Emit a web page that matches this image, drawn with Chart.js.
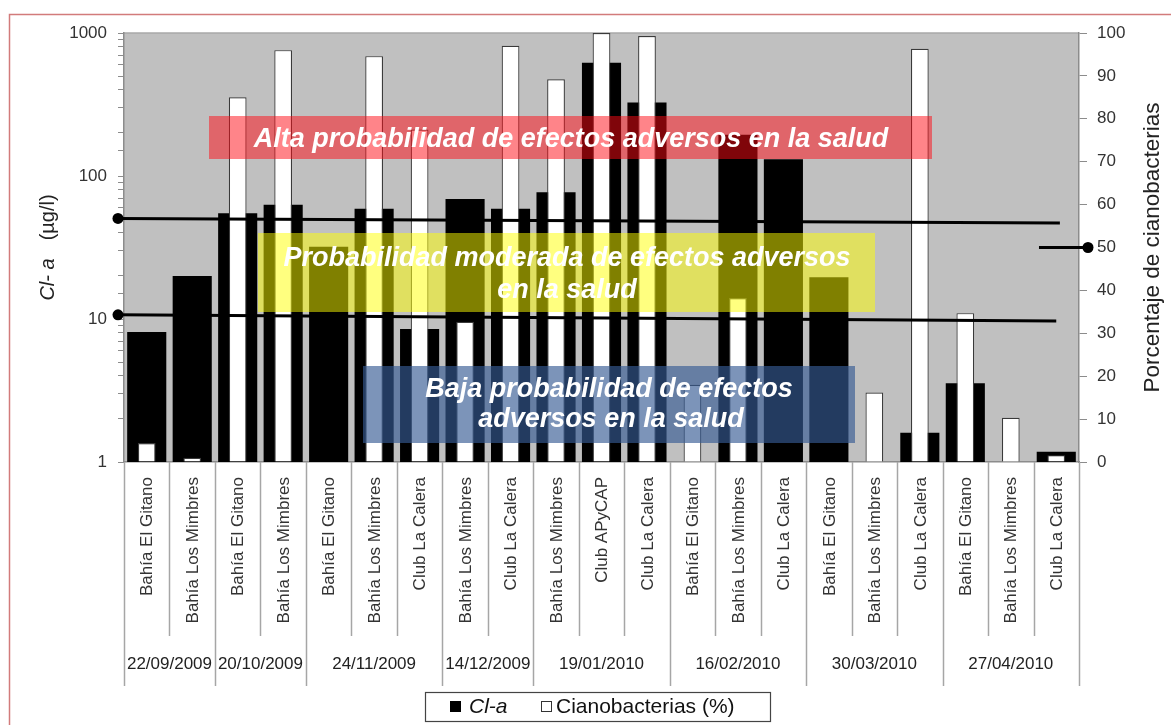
<!DOCTYPE html>
<html>
<head>
<meta charset="utf-8">
<script src="https://cdn.jsdelivr.net/npm/chart.js@4.4.1/dist/chart.umd.min.js"></script>
<style>
	html, body { margin: 0; padding: 0; background: #fff; }
	canvas { display: block; }
</style>
</head>
<body>
<canvas id="chart" width="1171" height="725"></canvas>
<script>
var FONT = '"Liberation Sans", Arial, sans-serif';

// estaciones de muestreo (eje x, nivel 1)
var stations = [
	'Bahía El Gitano', 'Bahía Los Mimbres',
	'Bahía El Gitano', 'Bahía Los Mimbres',
	'Bahía El Gitano', 'Bahía Los Mimbres', 'Club La Calera',
	'Bahía Los Mimbres', 'Club La Calera',
	'Bahía Los Mimbres', 'Club APyCAP', 'Club La Calera',
	'Bahía El Gitano', 'Bahía Los Mimbres', 'Club La Calera',
	'Bahía El Gitano', 'Bahía Los Mimbres', 'Club La Calera',
	'Bahía El Gitano', 'Bahía Los Mimbres', 'Club La Calera'
];
// fechas (eje x, nivel 2) y cuantas estaciones tiene cada una
var dates = ['22/09/2009', '20/10/2009', '24/11/2009', '14/12/2009', '19/01/2010', '16/02/2010', '30/03/2010', '27/04/2010'];
var dateCounts = [2, 2, 3, 2, 3, 3, 3, 3];

// Cl-a (ug/l), eje log izquierdo
var cla = [8.1, 20, 55, 63, 32, 59, 8.5, 69, 59, 77, 620, 326, null, 194, 131, 19.6, null, 1.6, 3.55, null, 1.18];
// Cianobacterias (%), eje derecho
var ciano = [4.4, 1.0, 85, 96, null, 94.6, 77.5, 32.7, 97, 89.2, 100, 99.3, 18, 38.2, null, null, 16.2, 96.3, 34.7, 10.3, 1.6];

// lineas guia sobre el eje log (valor al inicio / al final, indice x final)
var guideStart = [50.5, 10.7];
var guideEnd = [47, 9.7];
var guideEndIndex = [20.08, 20.0];
// linea corta sobre el eje derecho
var guidePct = 50;
var guidePctStartIndex = 19.62;

var leftTicks = [1, 10, 100, 1000];

function vText(ctx, txt, x, y, align) {
	ctx.save();
	ctx.translate(x, y);
	ctx.rotate(-Math.PI / 2);
	ctx.textAlign = align;
	ctx.textBaseline = 'middle';
	ctx.fillText(txt, 0, 0);
	ctx.restore();
}

var bgPlugin = {
	id: 'bg',
	beforeDraw: function (chart) {
		var ctx = chart.ctx, a = chart.chartArea;
		ctx.save();
		ctx.fillStyle = '#fff';
		ctx.fillRect(0, 0, chart.width, chart.height);
		ctx.fillStyle = '#c0c0c0';
		ctx.fillRect(a.left, a.top, a.right - a.left, a.bottom - a.top);
		ctx.strokeStyle = '#a8a8a8';
		ctx.lineWidth = 1.5;
		ctx.beginPath();
		ctx.moveTo(a.left, a.top);
		ctx.lineTo(a.right, a.top);
		ctx.stroke();
		// marco exterior
		ctx.strokeStyle = '#d27b7b';
		ctx.lineWidth = 1.5;
		ctx.beginPath();
		ctx.moveTo(9.5, chart.height);
		ctx.lineTo(9.5, 14.5);
		ctx.lineTo(chart.width, 14.5);
		ctx.stroke();
		ctx.restore();
	}
};

var overlayPlugin = {
	id: 'overlay',
	afterDatasetsDraw: function (chart) {
		var ctx = chart.ctx, a = chart.chartArea,
			xS = chart.scales.x, yS = chart.scales.y, y1S = chart.scales.y1;
		ctx.save();

		// cajas de probabilidad
		ctx.fillStyle = 'rgba(255,10,20,0.5)';
		ctx.fillRect(209, 116, 723, 43);
		ctx.fillStyle = 'rgba(255,255,0,0.5)';
		ctx.fillRect(258, 233, 617, 79);
		ctx.fillStyle = 'rgba(54,90,147,0.65)';
		ctx.fillRect(363, 366, 492, 77);

		ctx.fillStyle = '#fff';
		ctx.font = 'italic bold 27px ' + FONT;
		ctx.textAlign = 'center';
		ctx.textBaseline = 'alphabetic';
		ctx.fillText('Alta probabilidad de efectos adversos en la salud', 571, 147);
		ctx.fillText('Probabilidad moderada de efectos adversos', 567, 266);
		ctx.fillText('en la salud', 567, 298);
		ctx.fillText('Baja probabilidad de efectos', 609, 397);
		ctx.fillText('adversos en la salud', 611, 427);

		// lineas guia
		ctx.strokeStyle = '#000';
		ctx.fillStyle = '#000';
		ctx.lineWidth = 3;
		for (var i = 0; i < guideStart.length; i++) {
			var x0 = a.left - 6, x1 = xS.getPixelForValue(guideEndIndex[i]),
				yA = yS.getPixelForValue(guideStart[i]), yB = yS.getPixelForValue(guideEnd[i]);
			ctx.beginPath();
			ctx.moveTo(x0, yA);
			ctx.lineTo(x1, yB);
			ctx.stroke();
			ctx.beginPath();
			ctx.arc(x0, yA, 5.5, 0, Math.PI * 2);
			ctx.fill();
		}
		var yp = y1S.getPixelForValue(guidePct),
			xp0 = xS.getPixelForValue(guidePctStartIndex), xp1 = a.right + 9;
		ctx.beginPath();
		ctx.moveTo(xp0, yp);
		ctx.lineTo(xp1, yp);
		ctx.stroke();
		ctx.beginPath();
		ctx.arc(xp1, yp, 5.5, 0, Math.PI * 2);
		ctx.fill();
		ctx.restore();
	},
	afterDraw: function (chart) {
		var ctx = chart.ctx, a = chart.chartArea, xS = chart.scales.x;
		ctx.save();

		// separadores del eje x
		ctx.strokeStyle = '#a6a6a6';
		ctx.lineWidth = 1.5;
		var groupEdges = [0], acc = 0;
		for (var g = 0; g < dateCounts.length; g++) {
			acc += dateCounts[g];
			groupEdges.push(acc);
		}
		for (var i = 0; i <= stations.length; i++) {
			var x = Math.round(xS.getPixelForValue(i - 0.5)) + 0.5,
				isGroup = groupEdges.indexOf(i) >= 0;
			ctx.beginPath();
			ctx.moveTo(x, a.bottom);
			ctx.lineTo(x, isGroup ? 686 : 636);
			ctx.stroke();
		}

		// estaciones
		ctx.fillStyle = '#333';
		ctx.font = '17px ' + FONT;
		for (var j = 0; j < stations.length; j++) {
			vText(ctx, stations[j], xS.getPixelForValue(j) + 1, 477, 'right');
		}

		// fechas
		ctx.font = '17px ' + FONT;
		ctx.textAlign = 'center';
		ctx.textBaseline = 'middle';
		ctx.fillStyle = '#222';
		for (var k = 0; k < dates.length; k++) {
			var xl = xS.getPixelForValue(groupEdges[k] - 0.5),
				xr = xS.getPixelForValue(groupEdges[k + 1] - 0.5);
			ctx.fillText(dates[k], (xl + xr) / 2, 664);
		}

		// titulo eje izquierdo: "Cl- a  (µg/l)"
		ctx.fillStyle = '#222';
		var t1 = 'Cl- a', t2 = '(µg/l)', gap = 18;
		ctx.font = 'italic 20px ' + FONT;
		var w1 = ctx.measureText(t1).width;
		ctx.font = '20px ' + FONT;
		var w2 = ctx.measureText(t2).width;
		var cy = (a.top + a.bottom) / 2, start = cy + (w1 + gap + w2) / 2;
		ctx.font = 'italic 20px ' + FONT;
		vText(ctx, t1, 48, start, 'left');
		ctx.font = '20px ' + FONT;
		vText(ctx, t2, 48, start - w1 - gap, 'left');

		// titulo eje derecho
		ctx.font = '22.5px ' + FONT;
		vText(ctx, 'Porcentaje de cianobacterias', 1153, cy, 'center');

		// leyenda
		ctx.strokeStyle = '#444';
		ctx.lineWidth = 1.2;
		ctx.strokeRect(425.5, 692.5, 345, 29);
		ctx.fillStyle = '#000';
		ctx.fillRect(450, 701, 11, 11);
		ctx.fillStyle = '#fff';
		ctx.fillRect(541, 701, 11, 11);
		ctx.strokeStyle = '#333';
		ctx.lineWidth = 1;
		ctx.strokeRect(541.5, 701.5, 10, 10);
		ctx.fillStyle = '#111';
		ctx.textAlign = 'left';
		ctx.textBaseline = 'middle';
		ctx.font = 'italic 21px ' + FONT;
		ctx.fillText('Cl-a', 469, 707);
		ctx.font = '21px ' + FONT;
		ctx.fillText('Cianobacterias (%)', 556, 707);
		ctx.restore();
	}
};

new Chart(document.getElementById('chart').getContext('2d'), {
	type: 'bar',
	data: {
		labels: stations,
		datasets: [
			{
				label: 'Cianobacterias (%)',
				data: ciano,
				yAxisID: 'y1',
				backgroundColor: '#fff',
				borderColor: '#3a3a3a',
				borderWidth: 1.2,
				barPercentage: 0.39,
				categoryPercentage: 1,
				grouped: false
			},
			{
				label: 'Cl-a',
				data: cla,
				yAxisID: 'y',
				backgroundColor: '#000',
				borderWidth: 0,
				barPercentage: 0.86,
				categoryPercentage: 1,
				grouped: false
			}
		]
	},
	options: {
		responsive: false,
		animation: false,
		devicePixelRatio: 1,
		layout: { padding: { top: 33, left: 0, right: 0, bottom: 0 } },
		plugins: {
			legend: { display: false },
			tooltip: { enabled: false }
		},
		scales: {
			x: {
				type: 'category',
				offset: true,
				grid: { display: false },
				ticks: { display: false },
				border: { color: '#8c8c8c', width: 1.5 },
				afterFit: function (s) { s.height = 263; }
			},
			y: {
				type: 'logarithmic',
				position: 'left',
				min: 1,
				max: 1000,
				afterFit: function (s) { s.width = 124; },
				border: { color: '#8c8c8c', width: 1.5 },
				grid: { drawOnChartArea: false, tickLength: 6, color: '#8c8c8c' },
				ticks: {
					autoSkip: false,
					padding: 11,
					color: '#333',
					font: { family: FONT, size: 17 },
					callback: function (v) {
						return leftTicks.indexOf(Number(v)) >= 0 ? String(v) : '';
					}
				}
			},
			y1: {
				type: 'linear',
				position: 'right',
				min: 0,
				max: 100,
				afterFit: function (s) { s.width = 92; },
				border: { color: '#8c8c8c', width: 1.5 },
				grid: { drawOnChartArea: false, tickLength: 8, color: '#8c8c8c' },
				ticks: {
					stepSize: 10,
					padding: 10,
					color: '#333',
					font: { family: FONT, size: 17 }
				}
			}
		}
	},
	plugins: [bgPlugin, overlayPlugin]
});
</script>
</body>
</html>
